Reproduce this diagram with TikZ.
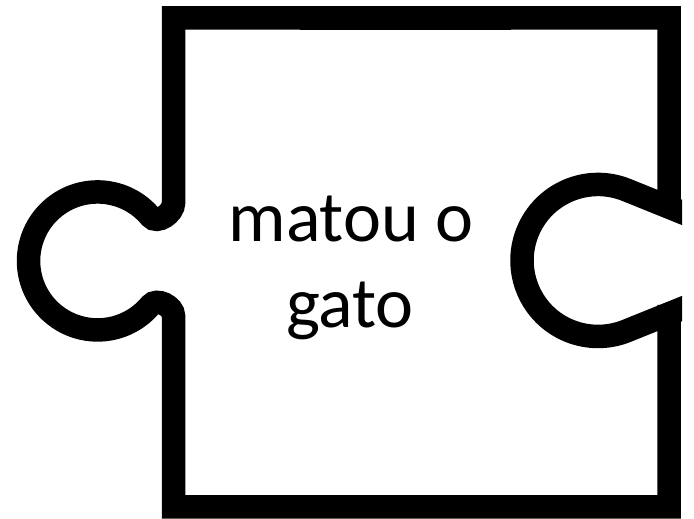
\documentclass[tikz,border=0pt]{standalone}
\usepackage{fontspec}
\setmainfont{Carlito}
\tikzset{
  piece/.style={draw=black, line width=23.5pt, miter limit=10, line join=miter},
  lbl/.style={anchor=base, inner sep=0pt, font=\fontsize{72}{86}\selectfont}
}
\begin{document}
\begin{tikzpicture}[x=1pt,y=1pt]
\fill[white] (0,0) rectangle (694,519);
\useasboundingbox (0,0) rectangle (694,519);
\begin{scope}
\clip (0,0) rectangle (682,519);
% outline with left tab
\draw[piece] (669,304) -- (669,501) -- (173.5,501) -- (173.5,316)
  to[out=-90,in=-50] (150.4,302.4)
  arc[start angle=40,end angle=320,radius=69]
  to[out=50,in=90] (173.5,203)
  -- (173.5,12) -- (669,12) -- (669,214);
% right notch
\draw[piece, line join=round] (700,299.3) -- (626.5,329)
  arc[start angle=68,end angle=292,radius=76] -- (700,217.7);
\end{scope}
% thicker segment on top edge
\fill[black] (300,489) rectangle (511,513);
\node[lbl] (l1) at (351,277) {matou o};
\node[lbl] (l2) at (350,191) {gato};
\end{tikzpicture}
\end{document}
